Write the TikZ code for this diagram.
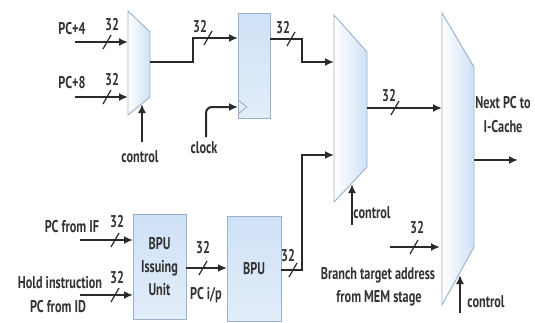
\documentclass[tikz,border=0pt]{standalone}
\usepackage{fontspec}
\setmainfont{PT Sans}[FakeStretch=0.72, UprightFont=*-Bold]
\usetikzlibrary{arrows.meta}
\definecolor{wire}{HTML}{2A2A2A}
\definecolor{txt}{HTML}{333333}
\definecolor{edge}{HTML}{9AB0CC}
\definecolor{fillb}{HTML}{CFE1F6}
\tikzset{
  wirearrow/.style={draw=wire, line width=2pt, -{Latex[length=9pt,width=8pt]}},
  busslash/.style={draw=wire, line width=1.2pt},
  lbl/.style={font=\fontsize{17}{18}\selectfont, text=txt, inner sep=0pt},
  muxshape/.style={draw=edge, line width=0.9pt, left color=white, right color=fillb},
  blockbox/.style={draw=edge, line width=0.9pt, top color=fillb, bottom color=fillb!60!white,
    inner sep=0pt, font=\fontsize{17}{23}\selectfont, text=txt, align=center},
  bus/.pic={\draw[busslash] (-4,7) -- (4,-7);}
}
\begin{document}
\begin{tikzpicture}[x=1pt,y=-1pt]
\useasboundingbox[fill=white] (0,0) rectangle (535,322);

% ---- mux shapes
\path[muxshape] (128,11) -- (150,32) -- (150,97) -- (128,115) -- cycle;
\path[muxshape] (334,15) -- (367,52) -- (367,167) -- (334,202) -- cycle;
\path[muxshape] (442,13) -- (474,67) -- (474,247) -- (442,305) -- cycle;

% ---- boxes
\node[blockbox, minimum width=32pt, minimum height=105pt] (reg) at (254,65.5) {};
\draw[edge, line width=0.9pt] (238,100) -- (247,107) -- (238,114);
\node[blockbox, minimum width=53pt, minimum height=105pt] (iss) at (159.5,266.5) {BPU\\Issuing\\Unit};
\node[blockbox, minimum width=54pt, minimum height=105pt] (bpu) at (254,268.5) {BPU};

% ---- port coordinates
\coordinate (m1a) at (128,42);
\coordinate (m1b) at (128,97);
\coordinate (m1o) at (150,62);
\coordinate (m1c) at (142,104);
\coordinate (regin) at (238,38);
\coordinate (regout) at (270,39);
\coordinate (clkin) at (238,107);
\coordinate (m2a) at (334,62);
\coordinate (m2b) at (334,155);
\coordinate (m2o) at (367,108);
\coordinate (m2c) at (352,184);
\coordinate (m3a) at (442,108);
\coordinate (m3b) at (440,247);
\coordinate (m3o) at (474,160);
\coordinate (m3c) at (460,275);
\coordinate (issa) at (133,240);
\coordinate (issb) at (133,295);
\coordinate (isso) at (186,268);
\coordinate (bpuin) at (227,268);
\coordinate (bpuout) at (281,270);

% ---- free ends
\coordinate (pc4) at (75,42);
\coordinate (pc8) at (75,97);
\coordinate (ctl1) at (142,142);
\coordinate (clk) at (206,137);
\coordinate (ctl2) at (352,225);
\coordinate (ctl3) at (460,313);
\coordinate (brsrc) at (390,247);
\coordinate (nxt) at (518,160);
\coordinate (pcif) at (80,240);
\coordinate (pcid) at (80,295);

% ---- connectors
\draw[wirearrow] (pc4) -- (m1a);
\draw[wirearrow] (pc8) -- (m1b);
\draw[wirearrow] (ctl1) -- (m1c);
\draw[wirearrow] (m1o) -- (193,62) -- (193,38) -- (regin);
\draw[wirearrow, rounded corners=6pt] (clk) |- (clkin);
\draw[wirearrow] (regout) -- (302,39) |- (m2a);
\draw[wirearrow] (bpuout) -- (302,270) |- (m2b);
\draw[wirearrow] (ctl2) -- (m2c);
\draw[wirearrow] (m2o) -- (m3a);
\draw[wirearrow] (brsrc) -- (m3b);
\draw[wirearrow] (ctl3) -- (m3c);
\draw[wirearrow] (m3o) -- (nxt);
\draw[wirearrow] (pcif) -- (issa);
\draw[wirearrow] (pcid) -- (issb);
\draw[wirearrow] (isso) -- (bpuin);

% ---- bus marks
\path (107,42) pic{bus};
\path (107,97) pic{bus};
\path (208,38) pic{bus};
\path (291,39) pic{bus};
\path (395,108) pic{bus};
\path (293,270) pic{bus};
\path (203,268) pic{bus};
\path (115,240) pic{bus};
\path (115,295) pic{bus};
\path (414,247) pic{bus};

% ---- labels
\node[lbl] (t1) at (112,25) {32};
\node[lbl] (t2) at (112,80) {32};
\node[lbl] (t3) at (200,27) {32};
\node[lbl] (t4) at (283,28) {32};
\node[lbl] (t5) at (389,96) {32};
\node[lbl] (t6) at (288,256) {32};
\node[lbl] (t7) at (203,248) {32};
\node[lbl] (t8) at (117,222) {32};
\node[lbl] (t9) at (117,278) {32};
\node[lbl] (t10) at (417,228) {32};

\node[lbl] (l1) at (72,29) {PC+4};
\node[lbl] (l2) at (72,83) {PC+8};
\node[lbl] (l3) at (140,157) {control};
\node[lbl] (l4) at (204,148) {clock};
\node[lbl] (l5) at (206,295) {PC i/p};
\node[lbl] (l6) at (72,227) {PC from IF};
\node[lbl] (l7) at (60,283) {Hold instruction};
\node[lbl] (l8) at (58,307) {PC from ID};
\node[lbl] (l9) at (372,213) {control};
\node[lbl] (l10) at (486,302) {control};
\node[lbl] (l11) at (378,275) {Branch target address};
\node[lbl] (l12) at (379,298) {from MEM stage};
\node[lbl] (l13) at (503,103) {Next PC to};
\node[lbl] (l14) at (503,127) {I-Cache};
\end{tikzpicture}
\end{document}
